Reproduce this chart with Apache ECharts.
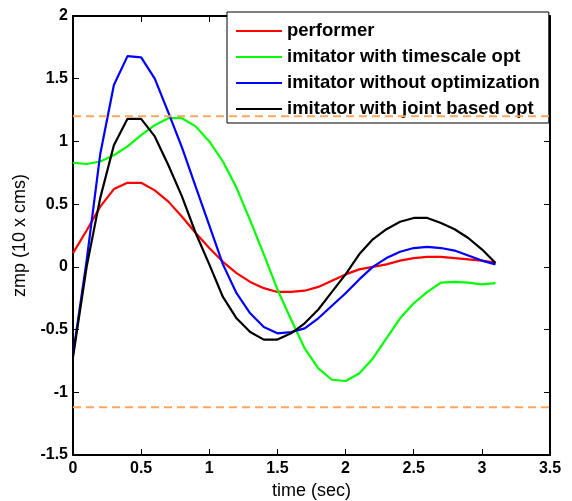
<!DOCTYPE html>
<html>
<head>
<meta charset="utf-8">
<script src="https://cdn.jsdelivr.net/npm/echarts@6/dist/echarts.min.js"></script>
<style>html,body{margin:0;padding:0;background:#fff;}#c{width:572px;height:501px;}</style>
</head>
<body>
<div id="c"></div>
<script>
var time = [0,0.1,0.2,0.3,0.4,0.5,0.6,0.7,0.8,0.9,1.0,1.1,1.2,1.3,1.4,1.5,1.6,1.7,1.8,1.9,2.0,2.1,2.2,2.3,2.4,2.5,2.6,2.7,2.8,2.9,3.0,3.1];
var performer = [0.11,0.29,0.48,0.62,0.67,0.67,0.61,0.52,0.40,0.27,0.15,0.04,-0.05,-0.12,-0.17,-0.20,-0.20,-0.19,-0.16,-0.11,-0.06,-0.02,0.00,0.02,0.05,0.07,0.08,0.08,0.07,0.06,0.05,0.035];
var timescaleOpt = [0.83,0.82,0.84,0.89,0.96,1.05,1.13,1.185,1.185,1.12,1.00,0.84,0.63,0.37,0.10,-0.18,-0.42,-0.65,-0.81,-0.90,-0.91,-0.85,-0.73,-0.57,-0.41,-0.29,-0.20,-0.125,-0.12,-0.125,-0.14,-0.13];
var withoutOpt = [-0.70,0.05,0.90,1.45,1.68,1.67,1.50,1.23,0.95,0.64,0.33,0.02,-0.21,-0.37,-0.48,-0.53,-0.52,-0.49,-0.41,-0.31,-0.21,-0.10,0.00,0.07,0.12,0.15,0.16,0.15,0.13,0.09,0.05,0.02];
var jointOpt = [-0.72,0.00,0.55,0.97,1.18,1.18,1.04,0.81,0.56,0.27,0.02,-0.24,-0.41,-0.52,-0.58,-0.58,-0.53,-0.45,-0.34,-0.20,-0.06,0.10,0.22,0.30,0.36,0.39,0.39,0.35,0.30,0.23,0.14,0.03];
var limitX = [0, 3.5];
var upperLimit = 1.2;
var lowerLimit = -1.12;
var seriesNames = ['performer','imitator with timescale opt','imitator without optimization','imitator with joint based opt'];

function pairs(ys){ return time.map(function(t,i){ return [t, ys[i]]; }); }

var chart = echarts.init(document.getElementById('c'), null, {renderer:'canvas'});
var tickFont = {fontFamily:'Liberation Sans, Arial, sans-serif', fontSize:16, fontWeight:'bold', color:'#000'};
var axisCommon = {
  min:0, max:3.5, interval:0.5,
  axisLine:{show:true, onZero:false, lineStyle:{color:'#000', width:2}},
  axisTick:{show:true, inside:true, length:6, lineStyle:{color:'#000', width:1}},
  splitLine:{show:false}
};
var yCommon = {
  min:-1.5, max:2, interval:0.5,
  axisLine:{show:true, onZero:false, lineStyle:{color:'#000', width:2}},
  axisTick:{show:true, inside:true, length:6, lineStyle:{color:'#000', width:1}},
  splitLine:{show:false}
};
function line(name, ys, color){
  return {name:name, type:'line', data:pairs(ys), symbol:'none', showSymbol:false,
    lineStyle:{color:color, width:2.2}, itemStyle:{color:color}, z:3, silent:true};
}
function limit(name, y){
  return {name:name, type:'line', data:limitX.map(function(x){return [x,y];}), symbol:'none',
    lineStyle:{color:'#F9A862', width:2, type:[8,5]}, z:20, zlevel:1, silent:true};
}
var option = {
  animation:false,
  backgroundColor:'#fff',
  grid:{left:73, right:22, top:16, bottom:46, containLabel:false, outerBoundsMode:'none'},
  legend:{
    data:seriesNames, orient:'vertical', left:227, top:12, icon:'rect',
    backgroundColor:'#fff', borderColor:'#000', borderWidth:1,
    padding:[9,9,4,9], itemWidth:46, itemHeight:2, itemGap:6,
    textStyle:{fontFamily:'Liberation Sans, Arial, sans-serif', fontSize:18.5, fontWeight:'bold', color:'#000', lineHeight:20},
    selectedMode:false, z:10
  },
  xAxis:[
    Object.assign({type:'value', position:'bottom', name:'time (sec)', nameLocation:'middle', nameGap:27,
      nameTextStyle:{fontFamily:'Liberation Sans, Arial, sans-serif', fontSize:18, color:'#000'},
      axisLabel:Object.assign({margin:6}, tickFont)}, axisCommon),
    Object.assign({type:'value', position:'top', axisLabel:{show:false}}, axisCommon)
  ],
  yAxis:[
    Object.assign({type:'value', position:'left', name:'zmp (10 x cms)', nameLocation:'middle', nameGap:30,
      nameTextStyle:{fontFamily:'Liberation Sans, Arial, sans-serif', fontSize:18, color:'#000'},
      axisLabel:Object.assign({margin:5}, tickFont)}, yCommon),
    Object.assign({type:'value', position:'right', axisLabel:{show:false}}, yCommon)
  ],
  series:[
    line(seriesNames[0], performer, '#FF0000'),
    line(seriesNames[1], timescaleOpt, '#00FF00'),
    line(seriesNames[2], withoutOpt, '#0000FF'),
    line(seriesNames[3], jointOpt, '#000000'),
    limit('upper limit', upperLimit),
    limit('lower limit', lowerLimit)
  ]
};
chart.setOption(option);
</script>
</body>
</html>
